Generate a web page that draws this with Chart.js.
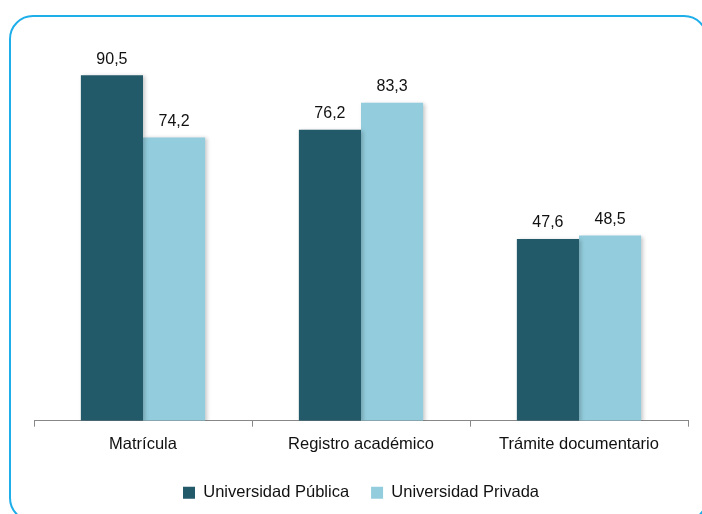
<!DOCTYPE html>
<html>
<head>
<meta charset="utf-8">
<script src="https://cdn.jsdelivr.net/npm/chart.js@4.4.1/dist/chart.umd.min.js"></script>
<style>
  body { margin: 0; background: #fff; overflow: hidden; }
  #wrap { position: relative; width: 702px; height: 514px; }
  #frame {
    position: absolute; left: 9px; top: 15px; right: -6px; bottom: -8px;
    border: 2.5px solid #1eaeea; border-radius: 24px; pointer-events: none;
  }
  canvas { position: absolute; left: 0; top: 0; }
</style>
</head>
<body>
<div id="wrap">
  <canvas id="barChart" width="702" height="514"></canvas>
  <div id="frame"></div>
</div>
<script>
const categories = ["Matrícula", "Registro académico", "Trámite documentario"];
const publica = [90.5, 76.2, 47.6];
const privada = [74.2, 83.3, 48.5];

const darkColor = "#225a69";
const lightColor = "#93cddd";
const fontFamily = "'Liberation Sans', Arial, sans-serif";

// soft drop shadow under the bars, then value labels on top
const barExtras = {
  id: "barExtras",
  beforeDatasetsDraw(chart) {
    const ctx = chart.ctx;
    ctx.save();
    ctx.shadowColor = "rgba(0,0,0,0.22)";
    ctx.shadowBlur = 4;
    ctx.shadowOffsetX = 2;
    ctx.shadowOffsetY = 1;
  },
  afterDatasetsDraw(chart) {
    const ctx = chart.ctx;
    ctx.restore();
    ctx.save();
    ctx.font = "16px " + fontFamily;
    ctx.fillStyle = "#111";
    ctx.textAlign = "center";
    ctx.textBaseline = "bottom";
    chart.data.datasets.forEach((ds, i) => {
      chart.getDatasetMeta(i).data.forEach((bar, j) => {
        const txt = ds.data[j].toFixed(1).replace(".", ",");
        ctx.fillText(txt, bar.x, bar.y - 8);
      });
    });
    ctx.restore();
  },
};

new Chart(document.getElementById("barChart"), {
  type: "bar",
  data: {
    labels: categories,
    datasets: [
      { label: "Universidad Pública", data: publica, backgroundColor: darkColor },
      { label: "Universidad Privada", data: privada, backgroundColor: lightColor },
    ],
  },
  options: {
    responsive: false,
    animation: false,
    devicePixelRatio: 1,
    layout: { padding: { left: 34, right: 14, top: 39, bottom: 3 } },
    datasets: { bar: { categoryPercentage: 0.57, barPercentage: 1 } },
    scales: {
      x: {
        offset: true,
        grid: { offset: true, drawOnChartArea: false, tickLength: 6, color: "#888" },
        border: { color: "#888", width: 1 },
        ticks: {
          color: "#111",
          padding: 8,
          font: { family: fontFamily, size: 16.5 },
        },
      },
      y: { display: false, min: 0, max: 100 },
    },
    plugins: {
      legend: {
        position: "bottom",
        labels: {
          boxWidth: 12,
          boxHeight: 12,
          padding: 22,
          color: "#111",
          font: { family: fontFamily, size: 16.5 },
        },
      },
      tooltip: { enabled: false },
    },
  },
  plugins: [barExtras],
});
</script>
</body>
</html>
